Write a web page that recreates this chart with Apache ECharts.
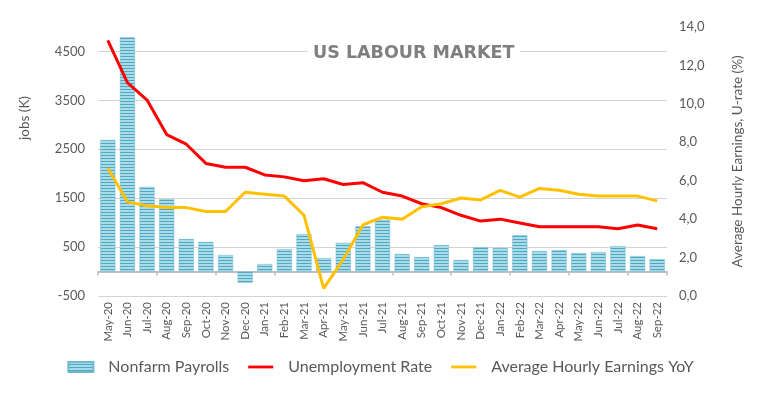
<!DOCTYPE html>
<html>
<head>
<meta charset="utf-8">
<script src="https://cdn.jsdelivr.net/npm/echarts@6/dist/echarts.min.js"></script>
<style>
html,body{margin:0;padding:0;background:#fff;}
#chart{width:761px;height:394px;}
</style>
</head>
<body>
<div id="chart"></div>
<script>
const categories = ['May-20','Jun-20','Jul-20','Aug-20','Sep-20','Oct-20','Nov-20','Dec-20',
  'Jan-21','Feb-21','Mar-21','Apr-21','May-21','Jun-21','Jul-21','Aug-21','Sep-21','Oct-21','Nov-21','Dec-21',
  'Jan-22','Feb-22','Mar-22','Apr-22','May-22','Jun-22','Jul-22','Aug-22','Sep-22'];
const nonfarmPayrolls = [2690,4790,1730,1480,665,605,337,-230,
  153,459,765,276,588,928,1060,357,296,541,235,500,
  480,745,418,439,378,398,520,316,255];
const unemploymentRate = [13.3,11.1,10.2,8.4,7.9,6.9,6.7,6.7,
  6.3,6.2,6.0,6.1,5.8,5.9,5.4,5.2,4.8,4.6,4.2,3.9,
  4.0,3.8,3.6,3.6,3.6,3.6,3.5,3.7,3.5];
const avgHourlyEarnings = [6.65,4.9,4.7,4.6,4.6,4.4,4.4,5.4,
  5.3,5.2,4.2,0.4,1.9,3.7,4.1,4.0,4.65,4.8,5.1,5.0,
  5.5,5.15,5.6,5.5,5.3,5.2,5.2,5.2,4.95];
const jobsTicks = [-500, 500, 1500, 2500, 3500, 4500];

const FONT = 'Lato';
const TXT = '#595959';
const GRIDC = '#d4d4d4';
const GRID = {left: 98, right: 94, top: 27, bottom: 98};
const W = 761;

function stripePattern(){
  const c = document.createElement('canvas');
  c.width = 4; c.height = 3;
  const g = c.getContext('2d');
  g.fillStyle = '#a9dbe8'; g.fillRect(0,0,4,3);
  g.fillStyle = '#4fa7c2'; g.fillRect(0,2,4,1);
  return {image: c, repeat: 'repeat'};
}
const barFill = stripePattern();

const chart = echarts.init(document.getElementById('chart'), null, {renderer:'canvas'});
chart.setOption({
  backgroundColor: '#fff',
  animation: false,
  textStyle: {fontFamily: FONT},
  title: {
    text: 'US LABOUR MARKET',
    left: 308, top: 43,
    backgroundColor: '#fff',
    padding: [1, 5],
    z: 10,
    textStyle: {fontFamily: 'DejaVu Sans', fontSize: 17.5, fontWeight: 'bold', color: '#7f7f7f'}
  },
  grid: [Object.assign({containLabel: false}, GRID)],
  legend: {
    left: 'center', top: 354,
    itemGap: 19,
    textStyle: {fontFamily: FONT, fontSize: 16, color: TXT, padding: [0,0,0,10]},
    data: [
      {name: 'Nonfarm Payrolls', icon: 'rect', itemStyle: {color: barFill}},
      {name: 'Unemployment Rate', icon: 'path://M0,0 L27,0 L27,3 L0,3 Z', itemStyle: {color: '#ff0000'}},
      {name: 'Average Hourly Earnings YoY', icon: 'path://M0,0 L27,0 L27,3 L0,3 Z', itemStyle: {color: '#ffc000'}}
    ],
    itemWidth: 25, itemHeight: 10
  },
  xAxis: [
    {
      type: 'category', data: categories,
      axisLine: {onZero: true, onZeroAxisIndex: 0, lineStyle: {color: '#bfbfbf', width: 2}},
      axisTick: {show: true, alignWithLabel: false, length: 4, lineStyle: {color: '#bfbfbf', width: 1.5}},
      axisLabel: {show: false},
      splitLine: {show: false}
    },
    {
      type: 'category', data: categories, position: 'bottom',
      axisLine: {show: false, onZero: false},
      axisTick: {show: false},
      axisLabel: {show: true, rotate: 90, interval: 0, margin: 6, fontFamily: FONT, fontSize: 11.5, color: TXT},
      splitLine: {show: false}
    }
  ],
  yAxis: [
    {
      type: 'value', min: -500, max: 5000, interval: 1000, position: 'left',
      axisLine: {show: false}, axisTick: {show: false},
      axisLabel: {margin: 13, fontFamily: FONT, fontSize: 13, color: TXT,
        formatter: v => (v === 5000 ? '' : String(v))},
      splitLine: {show: false}
    },
    {
      type: 'value', min: 0, max: 14, interval: 2, position: 'right',
      axisLine: {show: false}, axisTick: {show: false},
      splitLine: {show: false},
      axisLabel: {margin: 12, fontFamily: FONT, fontSize: 13, color: TXT,
        formatter: v => v.toFixed(1).replace('.', ',')},
      name: 'Average Hourly Earnings, U-rate (%)',
      nameLocation: 'middle', nameGap: 64, nameRotate: 90,
      nameTextStyle: {fontFamily: FONT, fontSize: 13.5, color: TXT}
    }
  ],
  series: [
    {
      name: 'Nonfarm Payrolls', type: 'bar', xAxisIndex: 0, yAxisIndex: 0,
      data: nonfarmPayrolls, barWidth: 15,
      itemStyle: {color: barFill, borderColor: '#6fb9cf', borderWidth: 0.5}
    },
    {
      name: 'Unemployment Rate', type: 'line', xAxisIndex: 0, yAxisIndex: 1,
      data: unemploymentRate, symbol: 'none', lineStyle: {color: '#ff0000', width: 3}, itemStyle: {color: '#ff0000'}, z: 3
    },
    {
      name: 'Average Hourly Earnings YoY', type: 'line', xAxisIndex: 0, yAxisIndex: 1,
      data: avgHourlyEarnings, symbol: 'none', lineStyle: {color: '#ffc000', width: 3}, itemStyle: {color: '#ffc000'}, z: 3
    }
  ]
});

// gridlines at the left-axis tick values, positioned through the axis scale (filled 1px rects)
const gridGraphics = jobsTicks.map(v => {
  const y = Math.round(chart.convertToPixel({yAxisIndex: 0}, v));
  return {
    type: 'rect', z: 0, zlevel: 0, silent: true,
    shape: {x: GRID.left, y: y, width: W - GRID.right - GRID.left, height: 1},
    style: {fill: GRIDC}
  };
});
gridGraphics.push({
  type: 'text', x: 25, y: 118, rotation: Math.PI/2,
  style: {text: 'jobs (K)', fontFamily: FONT, fontSize: 13.5, fill: TXT, align: 'center', verticalAlign: 'middle'}
});
chart.setOption({graphic: {elements: gridGraphics}});
</script>
</body>
</html>
